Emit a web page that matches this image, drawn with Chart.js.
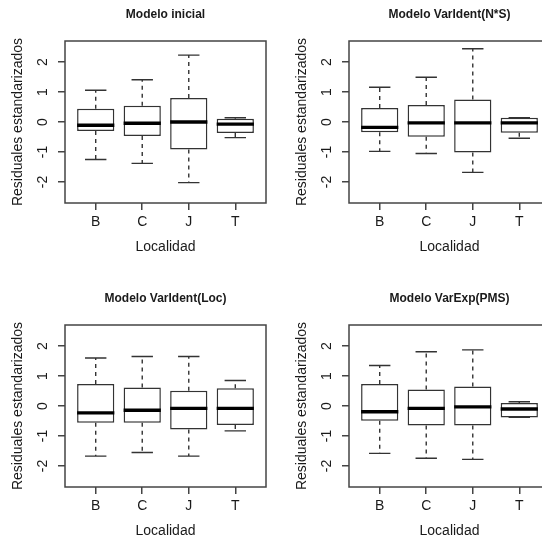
<!DOCTYPE html>
<html>
<head>
<meta charset="utf-8">
<script src="https://cdn.jsdelivr.net/npm/chart.js@4.4.0/dist/chart.umd.min.js"></script>
<style>
  html, body { margin: 0; padding: 0; background: #fff; overflow: hidden; }
  #wrap { position: relative; width: 568px; height: 568px; }
  #wrap canvas { position: absolute; }
</style>
</head>
<body>
<div id="wrap">
  <canvas id="c1" width="284" height="284" style="left:0;top:0"></canvas>
  <canvas id="c2" width="284" height="284" style="left:284px;top:0"></canvas>
  <canvas id="c3" width="284" height="284" style="left:0;top:284px"></canvas>
  <canvas id="c4" width="284" height="284" style="left:284px;top:284px"></canvas>
</div>
<script>
const localidades = ['B', 'C', 'J', 'T'];
const yTicks = [-2, -1, 0, 1, 2];

// Modelo inicial
const inicialMin = [-1.25, -1.38, -2.02, -0.52];
const inicialQ1  = [-0.30, -0.47, -0.92, -0.37];
const inicialMed = [-0.11, -0.04, 0.00, -0.07];
const inicialQ3  = [0.44, 0.54, 0.80, 0.11];
const inicialMax = [1.06, 1.41, 2.23, 0.14];

// Modelo VarIdent(N*S)
const nsMin = [-0.98, -1.05, -1.68, -0.54];
const nsQ1  = [-0.34, -0.49, -1.02, -0.36];
const nsMed = [-0.18, -0.03, -0.03, -0.03];
const nsQ3  = [0.47, 0.57, 0.75, 0.14];
const nsMax = [1.16, 1.49, 2.44, 0.14];

// Modelo VarIdent(Loc)
const locMin = [-1.67, -1.55, -1.67, -0.83];
const locQ1  = [-0.56, -0.56, -0.78, -0.63];
const locMed = [-0.23, -0.14, -0.08, -0.08];
const locQ3  = [0.73, 0.62, 0.51, 0.59];
const locMax = [1.60, 1.65, 1.65, 0.85];

// Modelo VarExp(PMS)
const pmsMin = [-1.58, -1.74, -1.78, -0.38];
const pmsQ1  = [-0.49, -0.65, -0.65, -0.38];
const pmsMed = [-0.19, -0.08, -0.03, -0.10];
const pmsQ3  = [0.73, 0.55, 0.65, 0.10];
const pmsMax = [1.35, 1.81, 1.87, 0.14];

const fontFamily = "'Liberation Sans', Arial, sans-serif";
const textColor = '#1a1a1a';
const lineColor = '#333';

// whiskers, staples, medians, frame and panel title (R boxplot look)
const boxplotLines = {
  id: 'boxplotLines',
  beforeDatasetsDraw(chart) {
    const ctx = chart.ctx;
    const xs = chart.scales.x, ys = chart.scales.y;
    const ds = chart.data.datasets[0];
    ctx.save();
    ctx.strokeStyle = lineColor;
    ctx.lineWidth = 1.4;
    ds.data.forEach((d, i) => {
      const xc = xs.getPixelForValue(d.x);
      const xl = xs.getPixelForValue(d.x - 0.23);
      const xr = xs.getPixelForValue(d.x + 0.23);
      const lo = ys.getPixelForValue(ds.lowVals[i]);
      const hi = ys.getPixelForValue(ds.highVals[i]);
      const q1 = ys.getPixelForValue(d.y[0]);
      const q3 = ys.getPixelForValue(d.y[1]);
      ctx.setLineDash([4, 4]);
      ctx.beginPath();
      ctx.moveTo(xc, q3); ctx.lineTo(xc, hi);
      ctx.moveTo(xc, q1); ctx.lineTo(xc, lo);
      ctx.stroke();
      ctx.setLineDash([]);
      ctx.beginPath();
      ctx.moveTo(xl, hi); ctx.lineTo(xr, hi);
      ctx.moveTo(xl, lo); ctx.lineTo(xr, lo);
      ctx.stroke();
    });
    ctx.restore();
  },
  afterDatasetsDraw(chart) {
    const ctx = chart.ctx;
    const xs = chart.scales.x, ys = chart.scales.y;
    const ds = chart.data.datasets[0];
    const area = chart.chartArea;
    ctx.save();
    ctx.strokeStyle = '#000';
    ctx.lineWidth = 3.4;
    ds.data.forEach((d, i) => {
      const xl = xs.getPixelForValue(d.x - 0.4);
      const xr = xs.getPixelForValue(d.x + 0.4);
      const m = ys.getPixelForValue(ds.medVals[i]);
      ctx.beginPath();
      ctx.moveTo(xl, m); ctx.lineTo(xr, m);
      ctx.stroke();
    });
    ctx.strokeStyle = '#444';
    ctx.lineWidth = 1.5;
    ctx.strokeRect(area.left, area.top, area.right - area.left, area.bottom - area.top);
    ctx.fillStyle = textColor;
    ctx.font = 'bold 12px ' + fontFamily;
    ctx.textAlign = 'center';
    ctx.textBaseline = 'middle';
    ctx.fillText(chart.options.plugins.boxplotLines.title, (area.left + area.right) / 2, 15);
    ctx.restore();
  }
};

function makePanel(id, title, lows, q1s, meds, q3s, highs) {
  return new Chart(document.getElementById(id), {
    type: 'bar',
    data: {
      datasets: [{
        data: localidades.map((l, i) => ({ x: i + 1, y: [q1s[i], q3s[i]] })),
        lowVals: lows,
        medVals: meds,
        highVals: highs,
        backgroundColor: '#fff',
        borderColor: lineColor,
        borderWidth: 1.5,
        borderSkipped: false,
        categoryPercentage: 1,
        barPercentage: 0.8
      }]
    },
    options: {
      responsive: false,
      animation: false,
      layout: { padding: { top: 41, right: 18, left: 0, bottom: 0 } },
      plugins: {
        legend: { display: false },
        tooltip: { enabled: false },
        title: { display: false },
        boxplotLines: { title: title }
      },
      scales: {
        x: {
          type: 'linear',
          offset: false,
          min: 0.34,
          max: 4.66,
          afterBuildTicks: (s) => { s.ticks = localidades.map((l, i) => ({ value: i + 1 })); },
          afterFit: (s) => { s.height = 81; },
          ticks: {
            callback: (v) => localidades[v - 1],
            color: textColor,
            font: { family: fontFamily, size: 14 },
            padding: 4,
            maxRotation: 0,
            autoSkip: false
          },
          grid: { display: true, offset: false, drawOnChartArea: false, drawTicks: true, tickLength: 7, color: '#444', lineWidth: 1.5 },
          border: { display: false },
          title: {
            display: true,
            text: 'Localidad',
            color: textColor,
            font: { family: fontFamily, size: 14 },
            padding: { top: 0, bottom: 28 }
          }
        },
        y: {
          min: -2.7,
          max: 2.7,
          afterBuildTicks: (s) => { s.ticks = yTicks.map(v => ({ value: v })); },
          afterFit: (s) => { s.width = 65; },
          ticks: {
            color: textColor,
            font: { family: fontFamily, size: 14 },
            minRotation: 90,
            maxRotation: 90,
            crossAlign: 'center',
            padding: 9,
            autoSkip: false
          },
          grid: { display: true, drawOnChartArea: false, drawTicks: true, tickLength: 7, color: '#444', lineWidth: 1.5 },
          border: { display: false },
          title: {
            display: true,
            text: 'Residuales estandarizados',
            color: textColor,
            font: { family: fontFamily, size: 14 },
            padding: { top: 10, bottom: 0 }
          }
        }
      }
    },
    plugins: [boxplotLines]
  });
}

makePanel('c1', 'Modelo inicial', inicialMin, inicialQ1, inicialMed, inicialQ3, inicialMax);
makePanel('c2', 'Modelo VarIdent(N*S)', nsMin, nsQ1, nsMed, nsQ3, nsMax);
makePanel('c3', 'Modelo VarIdent(Loc)', locMin, locQ1, locMed, locQ3, locMax);
makePanel('c4', 'Modelo VarExp(PMS)', pmsMin, pmsQ1, pmsMed, pmsQ3, pmsMax);
</script>
</body>
</html>
